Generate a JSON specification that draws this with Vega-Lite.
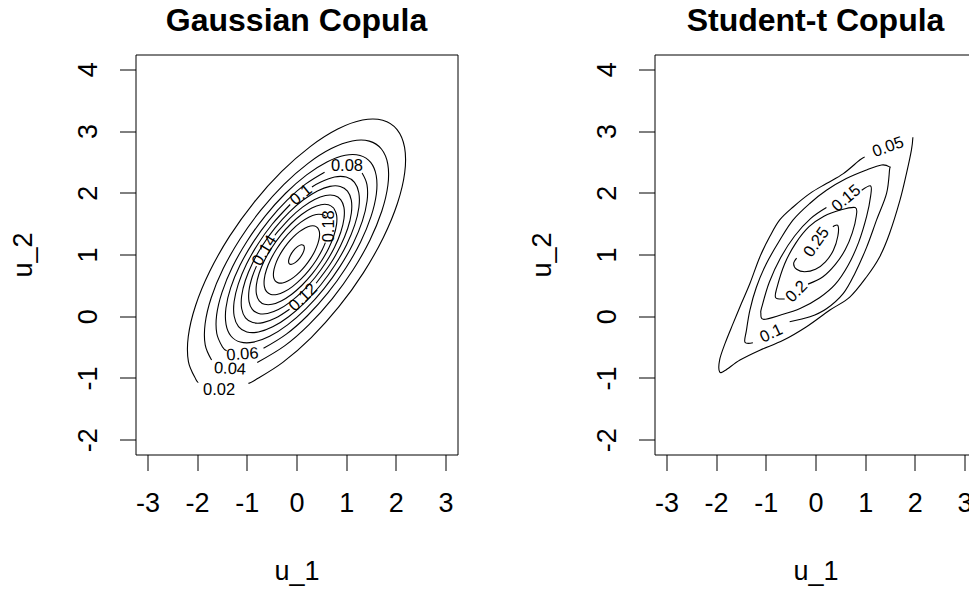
{
"$schema": "https://vega.github.io/schema/vega-lite/v6.json",
"autosize": {"type": "none"},
"padding": {"left": 135.5, "top": 54.5, "right": 833.5, "bottom": 534.5},
"background": "white",
"spacing": 197,
"bounds": "flush",
"config": {
 "font": "Liberation Sans",
 "view": {"stroke": "#000", "strokeWidth": 1},
 "axis": {"domain": false, "grid": false, "tickColor": "#000", "tickSize": 16, "tickWidth": 1, "labelColor": "#000", "labelFont": "Liberation Sans Narrow, Liberation Sans", "labelFontSize": 27, "titleFont": "Liberation Sans Narrow, Liberation Sans", "titleFontSize": 27, "titleFontWeight": "normal", "titleColor": "#000", "labelFlush": false, "labelOverlap": false, "labelExpr": "'' + datum.value"},
 "title": {"font": "Liberation Sans", "fontSize": 32, "fontWeight": "bold", "color": "#000"}
},
"datasets": {
 "gauss": [
  {"s":"g02","i":0,"x":-0.970,"y":-1.085},{"s":"g02","i":1,"x":-0.830,"y":-1.032},{"s":"g02","i":2,"x":-0.276,"y":-0.748},{"s":"g02","i":3,"x":0.297,"y":-0.345},{"s":"g02","i":4,"x":0.850,"y":0.150},{"s":"g02","i":5,"x":1.345,"y":0.703},{"s":"g02","i":6,"x":1.748,"y":1.276},{"s":"g02","i":7,"x":2.032,"y":1.830},{"s":"g02","i":8,"x":2.178,"y":2.328},{"s":"g02","i":9,"x":2.175,"y":2.735},{"s":"g02","i":10,"x":2.024,"y":3.024},{"s":"g02","i":11,"x":1.735,"y":3.175},{"s":"g02","i":12,"x":1.328,"y":3.178},{"s":"g02","i":13,"x":0.830,"y":3.032},{"s":"g02","i":14,"x":0.276,"y":2.748},{"s":"g02","i":15,"x":-0.297,"y":2.345},{"s":"g02","i":16,"x":-0.850,"y":1.850},{"s":"g02","i":17,"x":-1.345,"y":1.297},{"s":"g02","i":18,"x":-1.748,"y":0.724},{"s":"g02","i":19,"x":-2.032,"y":0.170},{"s":"g02","i":20,"x":-2.178,"y":-0.328},{"s":"g02","i":21,"x":-2.175,"y":-0.735},{"s":"g02","i":22,"x":-2.024,"y":-1.024},{"s":"g02","i":23,"x":-1.977,"y":-1.066},
  {"s":"g04","i":0,"x":-0.790,"y":-0.750},{"s":"g04","i":1,"x":-0.233,"y":-0.477},{"s":"g04","i":2,"x":0.252,"y":-0.136},{"s":"g04","i":3,"x":0.718,"y":0.282},{"s":"g04","i":4,"x":1.136,"y":0.748},{"s":"g04","i":5,"x":1.477,"y":1.232},{"s":"g04","i":6,"x":1.716,"y":1.700},{"s":"g04","i":7,"x":1.839,"y":2.121},{"s":"g04","i":8,"x":1.837,"y":2.465},{"s":"g04","i":9,"x":1.709,"y":2.709},{"s":"g04","i":10,"x":1.465,"y":2.837},{"s":"g04","i":11,"x":1.121,"y":2.839},{"s":"g04","i":12,"x":0.700,"y":2.716},{"s":"g04","i":13,"x":0.233,"y":2.477},{"s":"g04","i":14,"x":-0.252,"y":2.136},{"s":"g04","i":15,"x":-0.718,"y":1.718},{"s":"g04","i":16,"x":-1.136,"y":1.252},{"s":"g04","i":17,"x":-1.477,"y":0.768},{"s":"g04","i":18,"x":-1.716,"y":0.300},{"s":"g04","i":19,"x":-1.839,"y":-0.121},{"s":"g04","i":20,"x":-1.837,"y":-0.465},{"s":"g04","i":21,"x":-1.709,"y":-0.709},
  {"s":"g06","i":0,"x":-0.664,"y":-0.520},{"s":"g06","i":1,"x":-0.204,"y":-0.290},{"s":"g06","i":2,"x":0.219,"y":0.008},{"s":"g06","i":3,"x":0.627,"y":0.373},{"s":"g06","i":4,"x":0.992,"y":0.781},{"s":"g06","i":5,"x":1.290,"y":1.203},{"s":"g06","i":6,"x":1.499,"y":1.613},{"s":"g06","i":7,"x":1.607,"y":1.980},{"s":"g06","i":8,"x":1.604,"y":2.280},{"s":"g06","i":9,"x":1.493,"y":2.493},{"s":"g06","i":10,"x":1.280,"y":2.604},{"s":"g06","i":11,"x":0.980,"y":2.607},{"s":"g06","i":12,"x":0.613,"y":2.499},{"s":"g06","i":13,"x":0.204,"y":2.290},{"s":"g06","i":14,"x":-0.219,"y":1.992},{"s":"g06","i":15,"x":-0.627,"y":1.627},{"s":"g06","i":16,"x":-0.992,"y":1.219},{"s":"g06","i":17,"x":-1.290,"y":0.797},{"s":"g06","i":18,"x":-1.499,"y":0.387},{"s":"g06","i":19,"x":-1.607,"y":0.021},{"s":"g06","i":20,"x":-1.604,"y":-0.280},{"s":"g06","i":21,"x":-1.493,"y":-0.493},{"s":"g06","i":22,"x":-1.405,"y":-0.558},
  {"s":"g08","i":0,"x":0.565,"y":2.334},{"s":"g08","i":1,"x":0.180,"y":2.140},{"s":"g08","i":2,"x":-0.193,"y":1.877},{"s":"g08","i":3,"x":-0.554,"y":1.554},{"s":"g08","i":4,"x":-0.877,"y":1.193},{"s":"g08","i":5,"x":-1.140,"y":0.820},{"s":"g08","i":6,"x":-1.325,"y":0.459},{"s":"g08","i":7,"x":-1.420,"y":0.134},{"s":"g08","i":8,"x":-1.418,"y":-0.132},{"s":"g08","i":9,"x":-1.320,"y":-0.320},{"s":"g08","i":10,"x":-1.132,"y":-0.418},{"s":"g08","i":11,"x":-0.866,"y":-0.420},{"s":"g08","i":12,"x":-0.541,"y":-0.325},{"s":"g08","i":13,"x":-0.180,"y":-0.140},{"s":"g08","i":14,"x":0.193,"y":0.123},{"s":"g08","i":15,"x":0.554,"y":0.446},{"s":"g08","i":16,"x":0.877,"y":0.807},{"s":"g08","i":17,"x":1.140,"y":1.180},{"s":"g08","i":18,"x":1.325,"y":1.541},{"s":"g08","i":19,"x":1.420,"y":1.866},{"s":"g08","i":20,"x":1.418,"y":2.132},{"s":"g08","i":21,"x":1.320,"y":2.320},
  {"s":"g10","i":0,"x":-0.127,"y":1.810},{"s":"g10","i":1,"x":-0.490,"y":1.490},{"s":"g10","i":2,"x":-0.775,"y":1.171},{"s":"g10","i":3,"x":-1.008,"y":0.841},{"s":"g10","i":4,"x":-1.172,"y":0.521},{"s":"g10","i":5,"x":-1.256,"y":0.234},{"s":"g10","i":6,"x":-1.254,"y":0.000},{"s":"g10","i":7,"x":-1.167,"y":-0.167},{"s":"g10","i":8,"x":-1.000,"y":-0.254},{"s":"g10","i":9,"x":-0.766,"y":-0.256},{"s":"g10","i":10,"x":-0.479,"y":-0.172},{"s":"g10","i":11,"x":-0.159,"y":-0.008},{"s":"g10","i":12,"x":0.171,"y":0.225},{"s":"g10","i":13,"x":0.490,"y":0.510},{"s":"g10","i":14,"x":0.775,"y":0.829},{"s":"g10","i":15,"x":1.008,"y":1.159},{"s":"g10","i":16,"x":1.172,"y":1.479},{"s":"g10","i":17,"x":1.256,"y":1.766},{"s":"g10","i":18,"x":1.254,"y":2.000},{"s":"g10","i":19,"x":1.167,"y":2.167},{"s":"g10","i":20,"x":1.000,"y":2.254},{"s":"g10","i":21,"x":0.766,"y":2.256},{"s":"g10","i":22,"x":0.479,"y":2.172},{"s":"g10","i":23,"x":0.311,"y":2.094},
  {"s":"g12","i":0,"x":0.395,"y":0.534},{"s":"g12","i":1,"x":0.682,"y":0.849},{"s":"g12","i":2,"x":0.886,"y":1.140},{"s":"g12","i":3,"x":1.030,"y":1.421},{"s":"g12","i":4,"x":1.104,"y":1.673},{"s":"g12","i":5,"x":1.103,"y":1.880},{"s":"g12","i":6,"x":1.026,"y":2.026},{"s":"g12","i":7,"x":0.880,"y":2.103},{"s":"g12","i":8,"x":0.673,"y":2.104},{"s":"g12","i":9,"x":0.421,"y":2.030},{"s":"g12","i":10,"x":0.140,"y":1.886},{"s":"g12","i":11,"x":-0.151,"y":1.682},{"s":"g12","i":12,"x":-0.431,"y":1.431},{"s":"g12","i":13,"x":-0.682,"y":1.151},{"s":"g12","i":14,"x":-0.886,"y":0.860},{"s":"g12","i":15,"x":-1.030,"y":0.579},{"s":"g12","i":16,"x":-1.104,"y":0.327},{"s":"g12","i":17,"x":-1.103,"y":0.121},{"s":"g12","i":18,"x":-1.026,"y":-0.026},{"s":"g12","i":19,"x":-0.880,"y":-0.103},{"s":"g12","i":20,"x":-0.673,"y":-0.104},{"s":"g12","i":21,"x":-0.421,"y":-0.030},{"s":"g12","i":22,"x":-0.140,"y":0.114},
  {"s":"g14","i":0,"x":-0.806,"y":0.812},{"s":"g14","i":1,"x":-0.892,"y":0.635},{"s":"g14","i":2,"x":-0.956,"y":0.417},{"s":"g14","i":3,"x":-0.955,"y":0.238},{"s":"g14","i":4,"x":-0.889,"y":0.111},{"s":"g14","i":5,"x":-0.762,"y":0.045},{"s":"g14","i":6,"x":-0.583,"y":0.044},{"s":"g14","i":7,"x":-0.365,"y":0.108},{"s":"g14","i":8,"x":-0.122,"y":0.233},{"s":"g14","i":9,"x":0.130,"y":0.410},{"s":"g14","i":10,"x":0.373,"y":0.627},{"s":"g14","i":11,"x":0.590,"y":0.870},{"s":"g14","i":12,"x":0.768,"y":1.122},{"s":"g14","i":13,"x":0.892,"y":1.365},{"s":"g14","i":14,"x":0.956,"y":1.583},{"s":"g14","i":15,"x":0.955,"y":1.762},{"s":"g14","i":16,"x":0.889,"y":1.889},{"s":"g14","i":17,"x":0.762,"y":1.955},{"s":"g14","i":18,"x":0.583,"y":1.956},{"s":"g14","i":19,"x":0.365,"y":1.892},{"s":"g14","i":20,"x":0.122,"y":1.768},{"s":"g14","i":21,"x":-0.130,"y":1.590},{"s":"g14","i":22,"x":-0.373,"y":1.373},{"s":"g14","i":23,"x":-0.434,"y":1.310},
  {"s":"g16","i":0,"x":0.750,"y":1.750},{"s":"g16","i":1,"x":0.643,"y":1.806},{"s":"g16","i":2,"x":0.492,"y":1.807},{"s":"g16","i":3,"x":0.308,"y":1.753},{"s":"g16","i":4,"x":0.102,"y":1.648},{"s":"g16","i":5,"x":-0.110,"y":1.498},{"s":"g16","i":6,"x":-0.315,"y":1.315},{"s":"g16","i":7,"x":-0.498,"y":1.110},{"s":"g16","i":8,"x":-0.648,"y":0.898},{"s":"g16","i":9,"x":-0.753,"y":0.692},{"s":"g16","i":10,"x":-0.807,"y":0.508},{"s":"g16","i":11,"x":-0.806,"y":0.357},{"s":"g16","i":12,"x":-0.750,"y":0.250},{"s":"g16","i":13,"x":-0.643,"y":0.194},{"s":"g16","i":14,"x":-0.492,"y":0.193},{"s":"g16","i":15,"x":-0.308,"y":0.247},{"s":"g16","i":16,"x":-0.102,"y":0.352},{"s":"g16","i":17,"x":0.110,"y":0.502},{"s":"g16","i":18,"x":0.315,"y":0.685},{"s":"g16","i":19,"x":0.498,"y":0.890},{"s":"g16","i":20,"x":0.648,"y":1.102},{"s":"g16","i":21,"x":0.753,"y":1.308},{"s":"g16","i":22,"x":0.807,"y":1.492},{"s":"g16","i":23,"x":0.806,"y":1.643},{"s":"g16","i":24,"x":0.750,"y":1.750},
  {"s":"g18","i":0,"x":0.583,"y":1.618},{"s":"g18","i":1,"x":0.516,"y":1.647},{"s":"g18","i":2,"x":0.395,"y":1.648},{"s":"g18","i":3,"x":0.247,"y":1.605},{"s":"g18","i":4,"x":0.082,"y":1.520},{"s":"g18","i":5,"x":-0.089,"y":1.400},{"s":"g18","i":6,"x":-0.253,"y":1.253},{"s":"g18","i":7,"x":-0.400,"y":1.089},{"s":"g18","i":8,"x":-0.520,"y":0.918},{"s":"g18","i":9,"x":-0.605,"y":0.753},{"s":"g18","i":10,"x":-0.648,"y":0.605},{"s":"g18","i":11,"x":-0.647,"y":0.484},{"s":"g18","i":12,"x":-0.602,"y":0.398},{"s":"g18","i":13,"x":-0.516,"y":0.353},{"s":"g18","i":14,"x":-0.395,"y":0.352},{"s":"g18","i":15,"x":-0.247,"y":0.395},{"s":"g18","i":16,"x":-0.082,"y":0.480},{"s":"g18","i":17,"x":0.089,"y":0.600},{"s":"g18","i":18,"x":0.253,"y":0.747},{"s":"g18","i":19,"x":0.400,"y":0.911},{"s":"g18","i":20,"x":0.520,"y":1.082},{"s":"g18","i":21,"x":0.581,"y":1.193},
  {"s":"g20","i":0,"x":0.429,"y":1.429},{"s":"g20","i":1,"x":0.367,"y":1.461},{"s":"g20","i":2,"x":0.281,"y":1.461},{"s":"g20","i":3,"x":0.176,"y":1.430},{"s":"g20","i":4,"x":0.058,"y":1.370},{"s":"g20","i":5,"x":-0.063,"y":1.285},{"s":"g20","i":6,"x":-0.180,"y":1.180},{"s":"g20","i":7,"x":-0.285,"y":1.063},{"s":"g20","i":8,"x":-0.370,"y":0.942},{"s":"g20","i":9,"x":-0.430,"y":0.824},{"s":"g20","i":10,"x":-0.461,"y":0.719},{"s":"g20","i":11,"x":-0.461,"y":0.633},{"s":"g20","i":12,"x":-0.429,"y":0.572},{"s":"g20","i":13,"x":-0.367,"y":0.540},{"s":"g20","i":14,"x":-0.281,"y":0.539},{"s":"g20","i":15,"x":-0.176,"y":0.570},{"s":"g20","i":16,"x":-0.058,"y":0.630},{"s":"g20","i":17,"x":0.063,"y":0.715},{"s":"g20","i":18,"x":0.180,"y":0.820},{"s":"g20","i":19,"x":0.285,"y":0.937},{"s":"g20","i":20,"x":0.370,"y":1.058},{"s":"g20","i":21,"x":0.430,"y":1.176},{"s":"g20","i":22,"x":0.461,"y":1.281},{"s":"g20","i":23,"x":0.461,"y":1.367},{"s":"g20","i":24,"x":0.429,"y":1.429},
  {"s":"g22","i":0,"x":0.147,"y":1.147},{"s":"g22","i":1,"x":0.096,"y":1.158},{"s":"g22","i":2,"x":0.020,"y":1.127},{"s":"g22","i":3,"x":-0.062,"y":1.062},{"s":"g22","i":4,"x":-0.127,"y":0.980},{"s":"g22","i":5,"x":-0.158,"y":0.904},{"s":"g22","i":6,"x":-0.147,"y":0.853},{"s":"g22","i":7,"x":-0.096,"y":0.842},{"s":"g22","i":8,"x":-0.020,"y":0.873},{"s":"g22","i":9,"x":0.062,"y":0.938},{"s":"g22","i":10,"x":0.127,"y":1.020},{"s":"g22","i":11,"x":0.158,"y":1.096},{"s":"g22","i":12,"x":0.147,"y":1.147}
 ],
 "gaussLab": [
  {"lab":"0.02","x":-1.558,"y":-1.195,"a":0},
  {"lab":"0.04","x":-1.338,"y":-0.853,"a":3},
  {"lab":"0.06","x":-1.088,"y":-0.618,"a":-4},
  {"lab":"0.08","x":1.016,"y":2.431,"a":0},
  {"lab":"0.1","x":0.093,"y":1.967,"a":-39},
  {"lab":"0.12","x":0.132,"y":0.303,"a":-44},
  {"lab":"0.14","x":-0.642,"y":1.063,"a":-59},
  {"lab":"0.18","x":0.653,"y":1.457,"a":-90}
 ],
 "tcop": [
  {"s":"t05","i":0,"x":1.96,"y":2.90},{"s":"t05","i":1,"x":1.93,"y":2.69},{"s":"t05","i":2,"x":1.83,"y":2.31},{"s":"t05","i":3,"x":1.70,"y":1.88},{"s":"t05","i":4,"x":1.49,"y":1.34},{"s":"t05","i":5,"x":1.29,"y":0.96},{"s":"t05","i":6,"x":1.03,"y":0.64},{"s":"t05","i":7,"x":0.69,"y":0.31},{"s":"t05","i":8,"x":0.29,"y":0.10},{"s":"t05","i":9,"x":-0.18,"y":-0.17},{"s":"t05","i":10,"x":-0.65,"y":-0.39},{"s":"t05","i":11,"x":-1.12,"y":-0.55},{"s":"t05","i":12,"x":-1.52,"y":-0.71},{"s":"t05","i":13,"x":-1.82,"y":-0.88},{"s":"t05","i":14,"x":-1.93,"y":-0.90},{"s":"t05","i":15,"x":-1.93,"y":-0.71},{"s":"t05","i":16,"x":-1.82,"y":-0.44},{"s":"t05","i":17,"x":-1.66,"y":-0.12},{"s":"t05","i":18,"x":-1.49,"y":0.21},{"s":"t05","i":19,"x":-1.32,"y":0.53},{"s":"t05","i":20,"x":-1.12,"y":0.96},{"s":"t05","i":21,"x":-0.92,"y":1.29},{"s":"t05","i":22,"x":-0.72,"y":1.56},{"s":"t05","i":23,"x":-0.45,"y":1.77},{"s":"t05","i":24,"x":-0.11,"y":1.99},{"s":"t05","i":25,"x":0.22,"y":2.15},{"s":"t05","i":26,"x":0.56,"y":2.31},{"s":"t05","i":27,"x":0.89,"y":2.53},{"s":"t05","i":28,"x":0.99,"y":2.58},
  {"s":"t10","i":0,"x":-0.52,"y":-0.09},{"s":"t10","i":1,"x":-0.11,"y":-0.01},{"s":"t10","i":2,"x":0.22,"y":0.12},{"s":"t10","i":3,"x":0.56,"y":0.37},{"s":"t10","i":4,"x":0.79,"y":0.69},{"s":"t10","i":5,"x":1.03,"y":1.12},{"s":"t10","i":6,"x":1.23,"y":1.56},{"s":"t10","i":7,"x":1.43,"y":1.99},{"s":"t10","i":8,"x":1.49,"y":2.37},{"s":"t10","i":9,"x":1.49,"y":2.42},{"s":"t10","i":10,"x":1.33,"y":2.45},{"s":"t10","i":11,"x":1.03,"y":2.37},{"s":"t10","i":12,"x":0.62,"y":2.23},{"s":"t10","i":13,"x":0.22,"y":2.04},{"s":"t10","i":14,"x":-0.11,"y":1.83},{"s":"t10","i":15,"x":-0.45,"y":1.56},{"s":"t10","i":16,"x":-0.72,"y":1.23},{"s":"t10","i":17,"x":-0.99,"y":0.85},{"s":"t10","i":18,"x":-1.19,"y":0.47},{"s":"t10","i":19,"x":-1.32,"y":0.10},{"s":"t10","i":20,"x":-1.39,"y":-0.23},{"s":"t10","i":21,"x":-1.42,"y":-0.42},{"s":"t10","i":22,"x":-1.26,"y":-0.43},
  {"s":"t15","i":0,"x":0.93,"y":2.04},{"s":"t15","i":1,"x":1.11,"y":2.11},{"s":"t15","i":2,"x":1.11,"y":1.95},{"s":"t15","i":3,"x":1.03,"y":1.62},{"s":"t15","i":4,"x":0.87,"y":1.20},{"s":"t15","i":5,"x":0.66,"y":0.83},{"s":"t15","i":6,"x":0.40,"y":0.52},{"s":"t15","i":7,"x":0.08,"y":0.30},{"s":"t15","i":8,"x":-0.30,"y":0.13},{"s":"t15","i":9,"x":-0.70,"y":0.02},{"s":"t15","i":10,"x":-1.05,"y":-0.05},{"s":"t15","i":11,"x":-1.10,"y":0.05},{"s":"t15","i":12,"x":-1.08,"y":0.15},{"s":"t15","i":13,"x":-0.93,"y":0.55},{"s":"t15","i":14,"x":-0.70,"y":0.95},{"s":"t15","i":15,"x":-0.42,"y":1.30},{"s":"t15","i":16,"x":-0.10,"y":1.58},{"s":"t15","i":17,"x":0.22,"y":1.76},
  {"s":"t20","i":0,"x":-0.15,"y":0.52},{"s":"t20","i":1,"x":0.15,"y":0.64},{"s":"t20","i":2,"x":0.40,"y":0.84},{"s":"t20","i":3,"x":0.60,"y":1.08},{"s":"t20","i":4,"x":0.74,"y":1.35},{"s":"t20","i":5,"x":0.82,"y":1.62},{"s":"t20","i":6,"x":0.80,"y":1.76},{"s":"t20","i":7,"x":0.50,"y":1.72},{"s":"t20","i":8,"x":0.17,"y":1.62},{"s":"t20","i":9,"x":-0.13,"y":1.45},{"s":"t20","i":10,"x":-0.40,"y":1.18},{"s":"t20","i":11,"x":-0.62,"y":0.85},{"s":"t20","i":12,"x":-0.78,"y":0.45},{"s":"t20","i":13,"x":-0.80,"y":0.30},{"s":"t20","i":14,"x":-0.62,"y":0.28},
  {"s":"t25","i":0,"x":0.35,"y":1.45},{"s":"t25","i":1,"x":0.45,"y":1.47},{"s":"t25","i":2,"x":0.45,"y":1.30},{"s":"t25","i":3,"x":0.36,"y":1.07},{"s":"t25","i":4,"x":0.20,"y":0.88},{"s":"t25","i":5,"x":0.00,"y":0.76},{"s":"t25","i":6,"x":-0.22,"y":0.72},{"s":"t25","i":7,"x":-0.38,"y":0.76},{"s":"t25","i":8,"x":-0.44,"y":0.85},{"s":"t25","i":9,"x":-0.38,"y":0.94}
 ],
 "tLab": [
  {"lab":"0.05","x":1.46,"y":2.74,"a":-20},
  {"lab":"0.1","x":-0.89,"y":-0.28,"a":-25},
  {"lab":"0.15","x":0.62,"y":1.91,"a":-40},
  {"lab":"0.2","x":-0.38,"y":0.40,"a":-45},
  {"lab":"0.25","x":0.02,"y":1.20,"a":-55}
 ]
},
"hconcat": [
 {
  "width": 322, "height": 400,
  "title": {"text": "Gaussian Copula", "frame": "group", "anchor": "middle", "offset": -8, "baseline": "alphabetic"},
  "layer": [
   {"data": {"name": "gauss"}, "mark": {"type": "line", "interpolate": "cardinal", "color": "#000", "strokeWidth": 1.1},
    "encoding": {
     "x": {"field": "x", "type": "quantitative", "scale": {"domain": [-3.24, 3.24], "nice": false, "zero": false}, "axis": {"values": [-3,-2,-1,0,1,2,3], "title": "u_1", "labelPadding": 20, "titleX": 161, "titleY": 117, "titleBaseline": "middle", "titleAlign": "center"}},
     "y": {"field": "y", "type": "quantitative", "scale": {"domain": [-2.24, 4.24], "nice": false, "zero": false}, "axis": {"values": [-2,-1,0,1,2,3,4], "title": "u_2", "labelAngle": -90, "labelAlign": "center", "labelBaseline": "middle", "labelPadding": 31, "titleX": -112, "titleY": 200, "titleAlign": "center", "titleBaseline": "middle", "titleAngle": -90}},
     "detail": {"field": "s"},
     "order": {"field": "i", "type": "quantitative"}
    }},
   {"data": {"name": "gaussLab"}, "mark": {"type": "text", "fontSize": 16.5, "color": "#000", "align": "center", "baseline": "middle"},
    "encoding": {
     "x": {"field": "x", "type": "quantitative"},
     "y": {"field": "y", "type": "quantitative"},
     "text": {"field": "lab"},
     "angle": {"field": "a", "type": "quantitative", "scale": null}
    }}
  ]
 },
 {
  "width": 322, "height": 400,
  "title": {"text": "Student-t Copula", "frame": "group", "anchor": "middle", "offset": -8, "baseline": "alphabetic"},
  "layer": [
   {"data": {"name": "tcop"}, "mark": {"type": "line", "interpolate": "cardinal", "color": "#000", "strokeWidth": 1.1},
    "encoding": {
     "x": {"field": "x", "type": "quantitative", "scale": {"domain": [-3.24, 3.24], "nice": false, "zero": false}, "axis": {"values": [-3,-2,-1,0,1,2,3], "title": "u_1", "labelPadding": 20, "titleX": 161, "titleY": 117, "titleBaseline": "middle", "titleAlign": "center"}},
     "y": {"field": "y", "type": "quantitative", "scale": {"domain": [-2.24, 4.24], "nice": false, "zero": false}, "axis": {"values": [-2,-1,0,1,2,3,4], "title": "u_2", "labelAngle": -90, "labelAlign": "center", "labelBaseline": "middle", "labelPadding": 31, "titleX": -112, "titleY": 200, "titleAlign": "center", "titleBaseline": "middle", "titleAngle": -90}},
     "detail": {"field": "s"},
     "order": {"field": "i", "type": "quantitative"}
    }},
   {"data": {"name": "tLab"}, "mark": {"type": "text", "fontSize": 16.5, "color": "#000", "align": "center", "baseline": "middle"},
    "encoding": {
     "x": {"field": "x", "type": "quantitative"},
     "y": {"field": "y", "type": "quantitative"},
     "text": {"field": "lab"},
     "angle": {"field": "a", "type": "quantitative", "scale": null}
    }}
  ]
 }
]
}
